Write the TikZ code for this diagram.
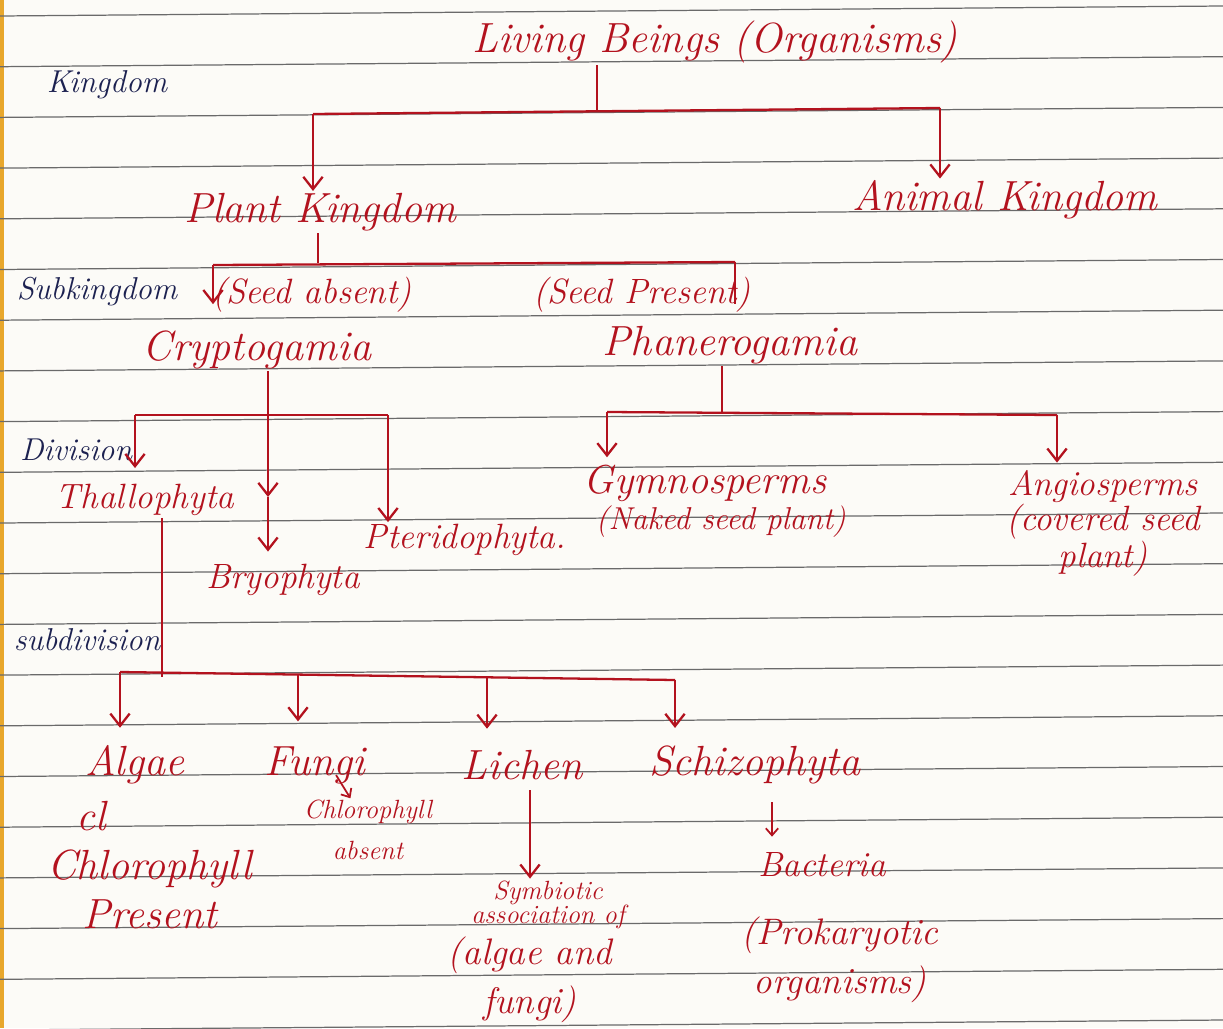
\documentclass[tikz,border=0pt]{standalone}
\usepackage{tikz}
\usetikzlibrary{arrows.meta, positioning, calc}
\definecolor{inkred}{HTML}{B3121E}
\definecolor{inknavy}{HTML}{1C2150}
\definecolor{paper}{HTML}{FCFBF7}
\definecolor{ruling}{HTML}{6A6A6A}
\definecolor{margin}{HTML}{E8A72C}

\begin{document}
\begin{tikzpicture}[
    x=0.02cm, y=-0.02cm,
    taxon/.style={text=inkred, font=\fontsize{20}{20}\selectfont\itshape, inner sep=1pt, align=center},
    big/.style={taxon, font=\fontsize{24}{26}\selectfont\itshape},
    note/.style={taxon, font=\fontsize{15}{14}\selectfont\itshape},
    rank/.style={text=inknavy, font=\fontsize{18}{20}\selectfont\itshape, inner sep=1pt},
    link/.style={draw=inkred, line width=1.3pt},
    arrow/.style={link, -{Straight Barb[length=7pt, width=11pt]}},
    smallarrow/.style={link, line width=1pt, -{Straight Barb[length=4pt, width=7pt]}}
]

% ruled notebook page
\fill[paper] (0,0) rectangle (1223,1028);
\useasboundingbox (0,0) rectangle (1223,1028);
\fill[margin] (0,0) rectangle (4,1028);
\foreach \k in {0,...,20}
    \draw[ruling, line width=0.7pt] (0,{16+50.7*\k}) -- (1223,{6+50.7*\k});

% rank labels
\node[rank] (kingdom) at (107,85) {Kingdom};
\node[rank] (subkingdom) at (97,292) {Subkingdom};
\node[rank] (division) at (76,450) {Division};
\node[rank] (subdivision) at (87,640) {subdivision};

% kingdoms
\node[big] (living) at (715,42) {Living Beings (Organisms)};
\node[big] (plant) at (320,212) {Plant Kingdom};
\node[big] (animal) at (1005,200) {Animal Kingdom};

% subkingdoms
\node[taxon] (absent) at (312,295) {(Seed absent)};
\node[taxon] (present) at (642,295) {(Seed Present)};
\node[big] (crypto) at (257,350) {Cryptogamia};
\node[big] (phanero) at (730,345) {Phanerogamia};

% divisions
\node[taxon] (thallo) at (145,500) {Thallophyta};
\node[taxon] (bryo) at (283,580) {Bryophyta};
\node[taxon] (pterido) at (465,540) {Pteridophyta.};
\node[taxon, font=\fontsize{23}{24}\selectfont\itshape] (gymno) at (705,483) {Gymnosperms};
\node[taxon, font=\fontsize{18}{18}\selectfont\itshape, below=0pt of gymno, xshift=9pt] (naked) {(Naked seed plant)};
\node[taxon] (angio) at (1103,523) {Angiosperms\\(covered seed\\plant)};

% subdivisions
\node[big] (algae) at (135,765) {Algae};
\node[big, anchor=west, align=left, font=\fontsize{24}{28}\selectfont\itshape] (algaenote) at (45,865)
    {\hspace*{17pt}cl\\Chlorophyll\\\hspace*{20pt}Present};
\node[big] (fungi) at (315,765) {Fungi};
\node[note, font=\fontsize{15}{23}\selectfont\itshape] (fungnote) at (368,830) {Chlorophyll\\absent};
\node[big] (lichen) at (522,765) {Lichen};
\node[note] (symb) at (548,905) {Symbiotic\\association of};
\node[taxon, font=\fontsize{21}{28}\selectfont\itshape] (algfung) at (530,980) {(algae and\\fungi)};
\node[big] (schizo) at (755,765) {Schizophyta};
\node[taxon] (bacteria) at (822,865) {Bacteria};
\node[taxon, font=\fontsize{21}{28}\selectfont\itshape] (proka) at (840,960) {(Prokaryotic\\organisms)};

% Living Beings
\coordinate (lbstem) at (597,111);
\coordinate (lbleft) at (313,114);
\coordinate (lbright) at (940,108);
\draw[link] (living.south -| lbstem) -- (lbstem);
\draw[link] (lbleft) -- (lbright);
\draw[arrow] (lbleft) -- (lbleft |- plant.north);
\draw[arrow] (lbright) -- (lbright |- animal.north);

% Plant Kingdom
\coordinate (pkstem) at (318,263);
\coordinate (pkleft) at (213,265);
\coordinate (pkright) at (735,262);
\draw[link] (plant.south -| pkstem) -- (pkstem);
\draw[link] (pkleft) -- (pkright);
\draw[arrow, shorten >=6pt] (pkleft) -- (pkleft |- absent.south);
\draw[link, shorten >=6pt] (pkright) -- (pkright |- present.south);

% Cryptogamia
\coordinate (crstem) at (268,497);
\coordinate (crleft) at (135,415);
\coordinate (crright) at (388,415);
\draw[arrow] (crypto.south -| crstem) -- (crstem);
\draw[arrow, shorten >=6pt] (crstem) -- (crstem |- bryo.north);
\draw[link] (crleft) -- (crright);
\draw[arrow, shorten >=8pt] (crleft) -- (crleft |- thallo.north);
\draw[arrow] (crright) -- (crright |- pterido.north);

% Phanerogamia
\coordinate (phstem) at (722,412);
\coordinate (phleft) at (607,412);
\coordinate (phright) at (1057,415);
\draw[link] (phanero.south -| phstem) -- (phstem);
\draw[link] (phleft) -- (phright);
\draw[arrow, shorten >=3pt] (phleft) -- (phleft |- gymno.north);
\draw[arrow, shorten >=3pt] (phright) -- (phright |- angio.north);

% Thallophyta
\coordinate (thstem) at (162,677);
\coordinate (sdleft) at (120,672);
\coordinate (sdfungi) at (298,675);
\coordinate (sdlichen) at (487,677);
\coordinate (sdright) at (675,680);
\draw[link] (thallo.south -| thstem) -- (thstem);
\draw[link] (sdleft) -- (sdright);
\draw[arrow, shorten >=9pt] (sdleft) -- (sdleft |- algae.north);
\draw[arrow, shorten >=13pt] (sdfungi) -- (sdfungi |- fungi.north);
\draw[arrow, shorten >=11pt] (sdlichen) -- (sdlichen |- lichen.north);
\draw[arrow, shorten >=9pt] (sdright) -- (sdright |- schizo.north);

% notes under subdivisions
\coordinate (lcstem) at (530,790);
\coordinate (szstem) at (772,802);
\draw[smallarrow] ([xshift=12pt]fungi.base) -- ([xshift=-10pt]fungnote.north);
\draw[arrow] (lcstem) -- (lcstem |- symb.north);
\draw[smallarrow, shorten >=8pt] (szstem) -- (szstem |- bacteria.north);

\end{tikzpicture}
\end{document}
